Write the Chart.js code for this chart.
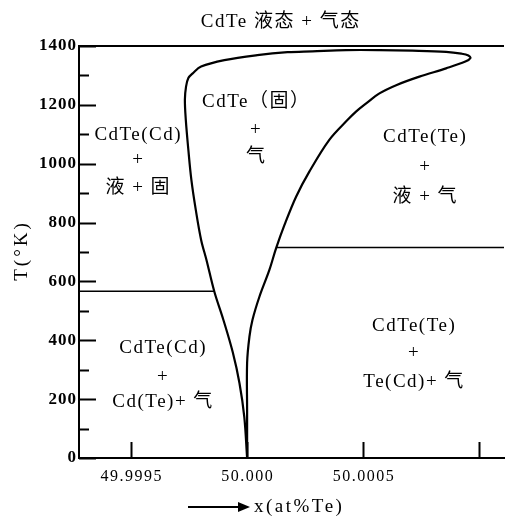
<!DOCTYPE html>
<html>
<head>
<meta charset="utf-8">
<script src="https://cdn.jsdelivr.net/npm/chart.js@4"></script>
<style>
  html, body { margin: 0; padding: 0; background: #fff; }
  canvas { display: block; }
</style>
</head>
<body>
<canvas id="chart" width="506" height="520"></canvas>
<script>
// CdTe existence region: x in at% Te, T in K
// path goes up the Cd-rich branch, round the top nose, back down the Te-rich branch
const boundaryX = [
  50.000000, 49.999988, 49.999967, 49.999938, 49.999898, 49.999859, 49.999825,
  49.999802, 49.999779, 49.999760, 49.999747, 49.999736, 49.999732, 49.999737,
  49.999747, 49.999766, 49.999802, 49.999902, 50.000044, 50.000174, 50.000281,
  50.000426, 50.000570, 50.000712, 50.000857, 50.000923, 50.000953, 50.000962,
  50.000940, 50.000857, 50.000742, 50.000642, 50.000570, 50.000513, 50.000469,
  50.000433, 50.000354, 50.000268, 50.000211, 50.000161, 50.000125, 50.000096,
  50.000053, 50.000023, 50.000010, 50.000000, 50.000000, 50.000000
];
const boundaryT = [
  0, 139, 255, 360, 469, 565, 673,
  741, 843, 945, 1047, 1149, 1217, 1262,
  1291, 1307, 1330, 1352, 1369, 1379, 1382,
  1386, 1386, 1384, 1380, 1374, 1368, 1359,
  1347, 1324, 1296, 1267, 1239, 1205, 1177,
  1149, 1081, 973, 888, 792, 713, 639,
  548, 469, 412, 323, 160, 0
];

// three-phase lines
const cdLineX = [49.999276, 49.999859];
const cdLineT = [567, 567];
const teLineX = [50.000125, 50.0011064];
const teLineT = [715, 715];

const xMin = 49.999276;
const xMax = 50.0011064;
const tMax = 1400;

const xTickValues = [49.9995, 50.0, 50.0005, 50.001];
const xTickLabels = ['49.9995', '50.000', '50.0005', ''];
const yTickValues = [0, 200, 400, 600, 800, 1000, 1200, 1400];
const yTickLabels = ['0', '200', '400', '600', '800', '1000', '1200', '1400'];
const yMinorValues = [100, 300, 500, 700, 900, 1100, 1300];

const titleText = 'CdTe 液态 + 气态';
const yTitle = 'T(°K)';
const xTitle = 'x(at%Te)';

// region labels, each line placed at its own (x, T)
const regionLabels = [
  { x: 49.999528, lines: [['CdTe(Cd)', 1097], ['+', 1012], ['液 + 固', 917]] },
  { x: 50.000036, lines: [['CdTe（固）', 1211], ['+', 1115], ['气', 1023]] },
  { x: 50.000764, lines: [['CdTe(Te)', 1092], ['+', 990], ['液 + 气', 888]] },
  { x: 49.999635, lines: [['CdTe(Cd)', 374], ['+', 276], ['Cd(Te)+ 气', 191]] },
  { x: 50.000716, lines: [['CdTe(Te)', 449], ['+', 357], ['Te(Cd)+ 气', 259]] }
];

const FONT = '"Liberation Serif", "Noto Sans CJK SC", serif';

const pts = (xs, ys) => xs.map((x, i) => ({ x: x, y: ys[i] }));

// text with letter spacing, centred without the trailing gap
function spacedText(ctx, text, x, y, spacing, align) {
  ctx.letterSpacing = spacing + 'px';
  const w = ctx.measureText(text).width - spacing;
  let left = x;
  if (align === 'center') left = x - w / 2;
  else if (align === 'right') left = x - w;
  ctx.textAlign = 'left';
  ctx.fillText(text, left, y);
  ctx.letterSpacing = '0px';
}

const decor = {
  id: 'decor',
  afterDraw(chart) {
    const ctx = chart.ctx;
    const xs = chart.scales.x;
    const ys = chart.scales.y;
    const area = chart.chartArea;
    ctx.save();
    ctx.strokeStyle = '#000';
    ctx.fillStyle = '#000';
    ctx.lineWidth = 2;

    // inward ticks on T axis
    ctx.beginPath();
    yTickValues.forEach(v => {
      const py = Math.round(ys.getPixelForValue(v)) + 0.5;
      ctx.moveTo(area.left, py);
      ctx.lineTo(area.left + 17, py);
    });
    yMinorValues.forEach(v => {
      const py = Math.round(ys.getPixelForValue(v)) + 0.5;
      ctx.moveTo(area.left, py);
      ctx.lineTo(area.left + 10, py);
    });
    // inward ticks on x axis
    xTickValues.forEach(v => {
      const px = Math.round(xs.getPixelForValue(v)) + 0.5;
      ctx.moveTo(px, area.bottom);
      ctx.lineTo(px, area.bottom - 16);
    });
    ctx.stroke();

    ctx.textBaseline = 'middle';

    // tick labels
    ctx.font = 'bold 17px ' + FONT;
    yTickValues.forEach((v, i) => {
      spacedText(ctx, yTickLabels[i], area.left - 3, ys.getPixelForValue(v), 1, 'right');
    });
    ctx.font = '16px ' + FONT;
    xTickValues.forEach((v, i) => {
      spacedText(ctx, xTickLabels[i], xs.getPixelForValue(v), 477, 1.5, 'center');
    });

    // title
    ctx.font = '19px ' + FONT;
    spacedText(ctx, titleText, 280, 22, 1.5, 'center');

    // region labels
    regionLabels.forEach(b => {
      const px = xs.getPixelForValue(b.x);
      b.lines.forEach(l => {
        spacedText(ctx, l[0], px, ys.getPixelForValue(l[1]), 1.5, 'center');
      });
    });

    // y title
    ctx.save();
    ctx.translate(22, 252);
    ctx.rotate(-Math.PI / 2);
    spacedText(ctx, yTitle, 0, 0, 3, 'center');
    ctx.restore();

    // x title with arrow
    ctx.beginPath();
    ctx.moveTo(188, 507);
    ctx.lineTo(240, 507);
    ctx.stroke();
    ctx.beginPath();
    ctx.moveTo(250, 507);
    ctx.lineTo(238, 502);
    ctx.lineTo(238, 512);
    ctx.closePath();
    ctx.fill();
    ctx.font = '19px ' + FONT;
    spacedText(ctx, xTitle, 254, 507, 2.5, 'left');
    ctx.restore();
  }
};

const lineStyle = {
  showLine: true,
  pointRadius: 0,
  borderColor: '#000',
  fill: false,
  clip: false
};

new Chart(document.getElementById('chart'), {
  type: 'scatter',
  data: {
    datasets: [
      Object.assign({ data: pts(boundaryX, boundaryT), borderWidth: 2.2, tension: 0.35 }, lineStyle),
      Object.assign({ data: pts(cdLineX, cdLineT), borderWidth: 1.5 }, lineStyle),
      Object.assign({ data: pts(teLineX, teLineT), borderWidth: 1.5 }, lineStyle),
      Object.assign({ data: pts([xMin, xMax], [tMax, tMax]), borderWidth: 2 }, lineStyle)
    ]
  },
  options: {
    responsive: false,
    animation: false,
    layout: { padding: { top: 46, right: 2, left: 0, bottom: 0 } },
    plugins: { legend: { display: false }, tooltip: { enabled: false } },
    scales: {
      x: {
        type: 'linear',
        min: xMin,
        max: xMax,
        afterBuildTicks: s => { s.ticks = xTickValues.map(v => ({ value: v })); },
        afterFit: s => { s.height = 62; },
        grid: { display: true, drawOnChartArea: false, drawTicks: false },
        border: { display: true, color: '#000', width: 2 },
        ticks: { display: false }
      },
      y: {
        type: 'linear',
        min: 0,
        max: tMax,
        afterBuildTicks: s => { s.ticks = yTickValues.map(v => ({ value: v })); },
        afterFit: s => { s.width = 79; },
        grid: { display: true, drawOnChartArea: false, drawTicks: false },
        border: { display: true, color: '#000', width: 2 },
        ticks: { display: false }
      }
    }
  },
  plugins: [decor]
});
</script>
</body>
</html>
